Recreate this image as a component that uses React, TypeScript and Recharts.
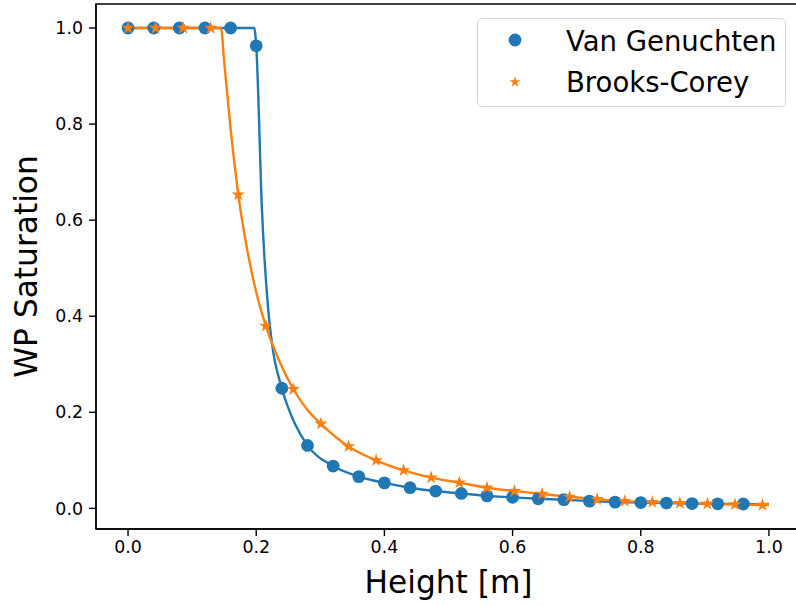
import React from "react"
import { ComposedChart, Line, Scatter, XAxis, YAxis, ReferenceArea, Label } from "recharts"

const FONT = "'DejaVu Sans', sans-serif"
const BLUE = "#1f77b4"
const ORANGE = "#ff7f0e"

// marker samples
const vgHeights = [0, 0.04, 0.08, 0.12, 0.16, 0.2, 0.24, 0.28, 0.32, 0.36, 0.4, 0.44, 0.48, 0.52, 0.56, 0.6, 0.64, 0.68, 0.72, 0.76, 0.8, 0.84, 0.88, 0.92, 0.96]
const vgSaturation = [1, 1, 1, 1, 1, 0.963, 0.25, 0.131, 0.088, 0.066, 0.053, 0.043, 0.036, 0.031, 0.026, 0.023, 0.02, 0.018, 0.015, 0.013, 0.012, 0.011, 0.01, 0.0095, 0.009]

const bcHeights = [0, 0.043, 0.086, 0.129, 0.172, 0.215, 0.258, 0.301, 0.344, 0.387, 0.43, 0.473, 0.517, 0.56, 0.603, 0.646, 0.689, 0.732, 0.775, 0.818, 0.861, 0.904, 0.947, 0.99]
const bcSaturation = [1, 1, 1, 1, 0.653, 0.38, 0.248, 0.176, 0.129, 0.1, 0.079, 0.064, 0.0535, 0.043, 0.036, 0.03, 0.024, 0.019, 0.015, 0.013, 0.011, 0.0095, 0.008, 0.007]

// continuous curves
const vgCurveHeights = [0, 0.197, 0.2, 0.209, 0.219, 0.2245, 0.24, 0.26, 0.28, 0.32, 0.36, 0.4, 0.44, 0.48, 0.52, 0.56, 0.6, 0.64, 0.68, 0.72, 0.76, 0.8, 0.84, 0.88, 0.92, 0.96, 1.0]
const vgCurveSaturation = [1, 1, 0.963, 0.62, 0.41, 0.344, 0.25, 0.177, 0.131, 0.088, 0.066, 0.053, 0.043, 0.036, 0.031, 0.026, 0.023, 0.02, 0.018, 0.015, 0.013, 0.012, 0.011, 0.01, 0.0095, 0.009, 0.0085]

const bcCurveHeights = [0, 0.145, 0.15, 0.155, 0.16, 0.165, 0.172, 0.185, 0.2, 0.215, 0.235, 0.258, 0.28, 0.301, 0.344, 0.387, 0.43, 0.473, 0.517, 0.56, 0.603, 0.646, 0.689, 0.732, 0.775, 0.818, 0.861, 0.904, 0.947, 0.99, 1.0]
const bcCurveSaturation = [1, 1, 0.93, 0.86, 0.79, 0.73, 0.653, 0.545, 0.45, 0.38, 0.31, 0.248, 0.205, 0.176, 0.129, 0.1, 0.079, 0.064, 0.0535, 0.043, 0.036, 0.03, 0.024, 0.019, 0.015, 0.013, 0.011, 0.0095, 0.008, 0.007, 0.0068]

const seriesNames = ["Van Genuchten", "Brooks-Corey"]
const xTicks = [0, 0.2, 0.4, 0.6, 0.8, 1.0]
const yTicks = [0, 0.2, 0.4, 0.6, 0.8, 1.0]
const xDomain = [-0.05, 1.05]
const yDomain = [-0.043, 1.05]

const zip = (xs: number[], ys: number[]) => xs.map((x, i) => ({ x, y: ys[i] }))

function starPath(cx: number, cy: number, R: number, r: number) {
  let d = ""
  for (let k = 0; k < 10; k++) {
    const rad = k % 2 === 0 ? R : r
    const a = -Math.PI / 2 + (k * Math.PI) / 5
    d += (k === 0 ? "M" : "L") + (cx + rad * Math.cos(a)).toFixed(2) + "," + (cy + rad * Math.sin(a)).toFixed(2)
  }
  return d + "Z"
}

const Dot = (p: any) => <circle cx={p.cx} cy={p.cy} r={6.4} fill={BLUE} />
const Star = (p: any) => <path d={starPath(p.cx, p.cy, 7, 2.7)} fill={ORANGE} />

function LegendBox() {
  return (
    <div
      style={{
        position: "absolute",
        left: 477,
        top: 18,
        width: 309,
        height: 89,
        boxSizing: "border-box",
        border: "1.4px solid #d6d6d6",
        borderRadius: 5,
        background: "rgba(255,255,255,0.8)",
      }}
    >
      <svg width={309} height={89} style={{ position: "absolute", left: -1.4, top: -1.4 }}>
        <circle cx={38} cy={22} r={6.4} fill={BLUE} />
        <path d={starPath(38, 64, 5.8, 2.2)} fill={ORANGE} />
        <text x={89} y={32.5} fontSize={27.5} fontFamily={FONT} fill="#000">
          {seriesNames[0]}
        </text>
        <text x={89} y={73.5} fontSize={27.5} fontFamily={FONT} fill="#000">
          {seriesNames[1]}
        </text>
      </svg>
    </div>
  )
}

export default function App() {
  const tickStyle = { fontSize: 17.4, fill: "#000", fontFamily: FONT }
  return (
    <div style={{ position: "absolute", left: 0, top: 0, width: 796, height: 606, overflow: "hidden", background: "#fff" }}>
      <ComposedChart width={805} height={606} margin={{ top: 4, right: 4, left: 0, bottom: 0 }}>
        <XAxis
          type="number"
          dataKey="x"
          domain={xDomain}
          allowDataOverflow
          ticks={xTicks}
          tickFormatter={(v: number) => v.toFixed(1)}
          tick={tickStyle}
          tickSize={7}
          tickMargin={5}
          tickLine={{ stroke: "#000", strokeWidth: 1.4 }}
          axisLine={{ stroke: "#000", strokeWidth: 1.4 }}
          height={77}
        >
          <Label
            content={() => (
              <text x={448.5} y={593} textAnchor="middle" fontSize={31.25} fontFamily={FONT} fill="#000">
                Height [m]
              </text>
            )}
          />
        </XAxis>
        <YAxis
          type="number"
          dataKey="y"
          domain={yDomain}
          allowDataOverflow
          ticks={yTicks}
          tickFormatter={(v: number) => v.toFixed(1)}
          tick={tickStyle}
          tickSize={7}
          tickMargin={6}
          tickLine={{ stroke: "#000", strokeWidth: 1.4 }}
          axisLine={{ stroke: "#000", strokeWidth: 1.4 }}
          width={96}
        >
          <Label
            content={() => (
              <text
                x={37}
                y={266.5}
                transform="rotate(-90 37 266.5)"
                textAnchor="middle"
                fontSize={31.25}
                fontFamily={FONT}
                fill="#000"
              >
                WP Saturation
              </text>
            )}
          />
        </YAxis>
        <Scatter data={zip(vgHeights, vgSaturation)} dataKey="y" shape={Dot} isAnimationActive={false} />
        <Scatter data={zip(bcHeights, bcSaturation)} dataKey="y" shape={Star} isAnimationActive={false} />
        <Line
          data={zip(vgCurveHeights, vgCurveSaturation)}
          dataKey="y"
          type="monotone"
          stroke={BLUE}
          strokeWidth={2.4}
          dot={false}
          activeDot={false}
          isAnimationActive={false}
        />
        <Line
          data={zip(bcCurveHeights, bcCurveSaturation)}
          dataKey="y"
          type="monotone"
          stroke={ORANGE}
          strokeWidth={2.4}
          dot={false}
          activeDot={false}
          isAnimationActive={false}
        />
        <ReferenceArea
          x1={xDomain[0]}
          x2={xDomain[1]}
          y1={yDomain[0]}
          y2={yDomain[1]}
          fill="none"
          stroke="#000"
          strokeWidth={1.4}
          ifOverflow="visible"
        />
      </ComposedChart>
      <LegendBox />
    </div>
  )
}
